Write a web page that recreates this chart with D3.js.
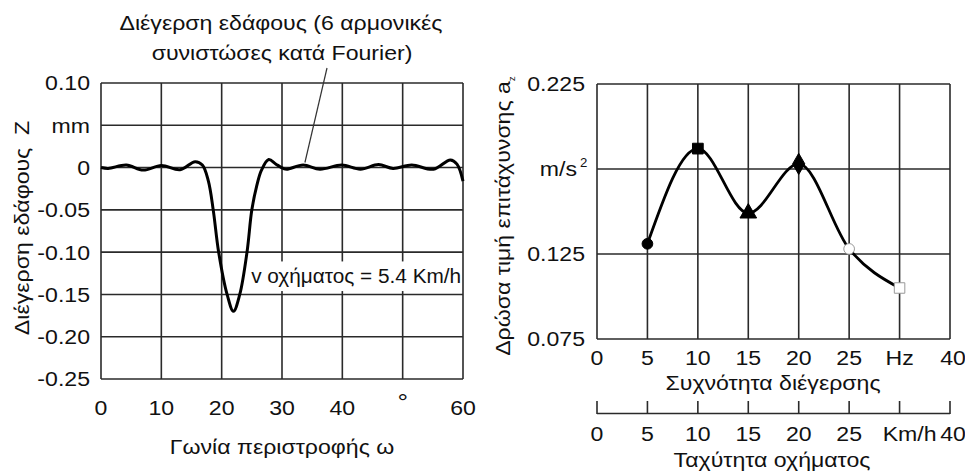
<!DOCTYPE html>
<html><head><meta charset="utf-8">
<script src="https://cdn.jsdelivr.net/npm/d3@7"></script>
<style>
html,body{margin:0;padding:0;background:#fff;}
text{font-family:"Liberation Sans",Arial,sans-serif;fill:#111;}
</style></head>
<body>
<svg id="chart" width="965" height="475"></svg>
<script>
// ---- Left chart data: ground excitation (6 Fourier harmonics) ----
const angleDeg = [0, 1.2, 4.2, 7.0, 10.0, 13.1, 15.6, 16.8, 17.8, 18.6, 19.5, 20.9, 21.95, 23.0, 24.2, 25.0, 25.8, 26.6, 27.8, 29.0, 30.2, 30.8, 33.5, 36.3, 39.9, 43.0, 46.0, 48.4, 51.5, 55.1, 57.9, 59.0, 60];
const zMm      = [0, -0.001, 0.003, -0.003, 0.0025, -0.0025, 0.007, 0.003, -0.016, -0.05, -0.10, -0.15, -0.170, -0.15, -0.10, -0.05, -0.022, -0.003, 0.0095, 0.004, -0.001, -0.002, 0.003, -0.002, 0.003, -0.002, 0.0035, -0.001, 0.003, -0.002, 0.009, 0.004, -0.016];
const leftYTicks  = [0.10, 0.05, 0, -0.05, -0.10, -0.15, -0.20, -0.25];
const leftYLabels = ["0.10", "mm", "0", "-0.05", "-0.10", "-0.15", "-0.20", "-0.25"];
const leftXTicks  = [0, 10, 20, 30, 40, 50, 60];
const leftXLabels = ["0", "10", "20", "30", "40", "°", "60"];

// ---- Right chart data: RMS acceleration vs excitation frequency ----
const freqHz   = [5, 10, 15, 20, 25, 30];
const accRms   = [0.131, 0.187, 0.149, 0.178, 0.128, 0.105];
const markers  = ["circle", "square", "triangle", "diamond", "circle-open", "square-open"];
const rightXTicks     = [0, 5, 10, 15, 20, 25, 30, 35];
const freqTickLabels  = ["0", "5", "10", "15", "20", "25", "Hz", "40"];
const speedTickLabels = ["0", "5", "10", "15", "20", "25", "Km/h", "40"];
const rightYTicks  = [0.225, 0.175, 0.125, 0.075];
const rightYLabels = ["0.225", "m/s", "0.125", "0.075"];

const svg = d3.select("#chart");
const gridColor = "#2a2a2a";
const FS = 21, SX = 1.1;

function label(g, x, y, str, anchor, opts = {}) {
  const fs = opts.fs || FS, sx = opts.sx || SX, rot = opts.rot ? ` rotate(${opts.rot})` : "";
  return g.append("text")
    .attr("transform", `translate(${x},${y})${rot} scale(${sx},1)`)
    .attr("dy", "0.35em").attr("text-anchor", anchor)
    .style("font-size", fs + "px").attr("xml:space", "preserve").text(str);
}

// ================= LEFT CHART =================
const xL = d3.scaleLinear().domain([0, 60]).range([101, 463]);
const yL = d3.scaleLinear().domain([-0.25, 0.10]).range([379, 83]);
const gL = svg.append("g");

gL.selectAll("line.vg").data(leftXTicks).join("line")
  .attr("x1", d => xL(d)).attr("x2", d => xL(d))
  .attr("y1", yL(0.10)).attr("y2", yL(-0.25))
  .attr("stroke", gridColor).attr("stroke-width", 1.6);
gL.selectAll("line.hg").data(leftYTicks).join("line")
  .attr("x1", xL(0)).attr("x2", xL(60))
  .attr("y1", d => yL(d)).attr("y2", d => yL(d))
  .attr("stroke", gridColor).attr("stroke-width", 1.6);

gL.append("path")
  .datum(angleDeg.map((a, i) => [a, zMm[i]]))
  .attr("fill", "none").attr("stroke", "#000").attr("stroke-width", 3)
  .attr("stroke-linejoin", "round")
  .attr("d", d3.line().x(d => xL(d[0])).y(d => yL(d[1])).curve(d3.curveCatmullRom.alpha(0.5)));

const boxX0 = xL(25.1), boxX1 = xL(60) - 1;
gL.append("rect").attr("x", boxX0).attr("y", yL(-0.111)).attr("width", boxX1 - boxX0)
  .attr("height", yL(-0.146) - yL(-0.111)).attr("fill", "#fff");
label(gL, xL(59.7), yL(-0.1285), "v οχήματος = 5.4 Km/h", "end", { fs: 20, sx: 1.04 });

gL.selectAll("text.yl").data(leftYTicks).join("text")
  .attr("transform", d => `translate(90,${yL(d)}) scale(${SX},1)`).attr("dy", "0.35em")
  .attr("text-anchor", "end").style("font-size", FS + "px")
  .text((d, i) => leftYLabels[i]);
gL.selectAll("text.xl").data(leftXTicks).join("text")
  .attr("transform", (d, i) => `translate(${xL(d)},${leftXLabels[i] === "°" ? 402 : 408}) scale(${SX},1)`)
  .attr("dy", "0.35em").attr("text-anchor", "middle")
  .style("font-size", (d, i) => leftXLabels[i] === "°" ? "24px" : FS + "px")
  .text((d, i) => leftXLabels[i]);

label(gL, 282, 447, "Γωνία περιστροφής ω", "middle");
label(gL, 22, 228, "Διέγερση εδάφους  Z", "middle", { rot: -90 });

label(gL, 281, 23, "Διέγερση εδάφους (6 αρμονικές", "middle");
label(gL, 282, 53, "συνιστώσες κατά Fourier)", "middle");
gL.append("line").attr("x1", 327).attr("y1", 68).attr("x2", xL(33.8)).attr("y2", yL(0.006))
  .attr("stroke", "#333").attr("stroke-width", 1.2);

// ================= RIGHT CHART =================
const xR = d3.scaleLinear().domain([0, 35]).range([597, 950]);
const yR = d3.scaleLinear().domain([0.075, 0.225]).range([339, 84]);
const gR = svg.append("g");

gR.selectAll("line.vg").data(rightXTicks).join("line")
  .attr("x1", d => xR(d)).attr("x2", d => xR(d))
  .attr("y1", yR(0.225)).attr("y2", yR(0.075))
  .attr("stroke", gridColor).attr("stroke-width", 1.6);
gR.selectAll("line.hg").data(rightYTicks).join("line")
  .attr("x1", xR(0)).attr("x2", xR(35))
  .attr("y1", d => yR(d)).attr("y2", d => yR(d))
  .attr("stroke", gridColor).attr("stroke-width", 1.6);

gR.append("path")
  .datum(freqHz.map((f, i) => [f, accRms[i]]))
  .attr("fill", "none").attr("stroke", "#000").attr("stroke-width", 2.8)
  .attr("d", d3.line().x(d => xR(d[0])).y(d => yR(d[1])).curve(d3.curveMonotoneX));

const symMap = {
  "circle": d3.symbolCircle, "square": d3.symbolSquare, "triangle": d3.symbolTriangle,
  "diamond": d3.symbolDiamond, "circle-open": d3.symbolCircle, "square-open": d3.symbolSquare
};
const symSize = { "circle": 90, "square": 115, "triangle": 120, "diamond": 130, "circle-open": 90, "square-open": 110 };
gR.selectAll("path.mk").data(freqHz).join("path")
  .attr("transform", (d, i) => `translate(${xR(d)},${yR(accRms[i])})`)
  .attr("d", (d, i) => d3.symbol(symMap[markers[i]], symSize[markers[i]])())
  .attr("fill", (d, i) => markers[i].endsWith("open") ? "#fff" : "#000")
  .attr("stroke", (d, i) => markers[i].endsWith("open") ? "#999" : "#000")
  .attr("stroke-width", 1);

gR.selectAll("text.yl").data(rightYTicks).join("text")
  .attr("transform", (d, i) => `translate(${rightYLabels[i] === "m/s" ? 577 : 585},${yR(d)}) scale(${SX},1)`)
  .attr("dy", "0.35em").attr("text-anchor", "end").style("font-size", FS + "px")
  .text((d, i) => rightYLabels[i]);
label(gR, 580, yR(0.175) - 6, "2", "start", { fs: 12 });

gR.selectAll("text.fl").data(rightXTicks).join("text")
  .attr("transform", d => `translate(${d === 35 ? xR(d) + 3 : xR(d)},358) scale(${SX},1)`)
  .attr("dy", "0.35em").attr("text-anchor", "middle").style("font-size", FS + "px")
  .text((d, i) => freqTickLabels[i]);
label(gR, 773, 383, "Συχνότητα διέγερσης", "middle");

gR.append("line").attr("x1", xR(0)).attr("x2", xR(35)).attr("y1", 413.5).attr("y2", 413.5)
  .attr("stroke", gridColor).attr("stroke-width", 1.6);
gR.selectAll("line.st").data(rightXTicks).join("line")
  .attr("x1", d => xR(d)).attr("x2", d => xR(d)).attr("y1", 401).attr("y2", 414)
  .attr("stroke", gridColor).attr("stroke-width", 1.6);
gR.selectAll("text.sl").data(rightXTicks).join("text")
  .attr("transform", d => `translate(${d === 30 ? xR(d) + 10 : (d === 35 ? xR(d) + 3 : xR(d))},434) scale(${SX},1)`)
  .attr("dy", "0.35em").attr("text-anchor", "middle").style("font-size", FS + "px")
  .text((d, i) => speedTickLabels[i]);
label(gR, 772, 460, "Ταχύτητα οχήματος", "middle");

const yt = gR.append("text").attr("transform", `translate(503,216) rotate(-90) scale(${SX},1)`).attr("dy", "0.35em")
  .attr("text-anchor", "middle").style("font-size", FS + "px");
yt.append("tspan").text("Δρώσα τιμή επιτάχυνσης a");
yt.append("tspan").attr("dy", "5").style("font-size", "9px").text("z");
</script>
</body></html>
